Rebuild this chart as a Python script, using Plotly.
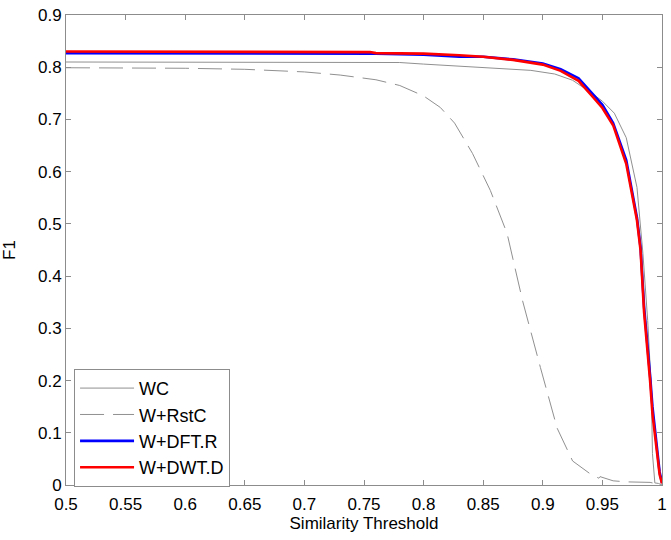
import plotly.graph_objects as go

# ---- data ----
wc_x = [0.5, 0.6, 0.7, 0.75, 0.78, 0.8, 0.85, 0.89, 0.91, 0.925, 0.94, 0.95, 0.96,
        0.97, 0.979, 0.984, 0.988, 0.991, 0.992, 0.994, 0.997, 1.0]
wc_y = [0.810, 0.810, 0.810, 0.810, 0.809, 0.806, 0.800, 0.794, 0.787, 0.775, 0.752,
        0.735, 0.712, 0.665, 0.570, 0.443, 0.315, 0.186, 0.060, 0.004, 0.003, 0.0]

rstc_x = [0.5, 0.6, 0.65, 0.7, 0.73, 0.76, 0.78, 0.8, 0.814, 0.826, 0.841, 0.856,
          0.870, 0.883, 0.898, 0.912, 0.925, 0.940, 0.947, 0.948, 0.959, 0.97, 0.99, 0.995, 1.0]
rstc_y = [0.799, 0.798, 0.796, 0.791, 0.785, 0.776, 0.765, 0.745, 0.723, 0.693, 0.635,
          0.564, 0.482, 0.353, 0.225, 0.109, 0.046, 0.021, 0.013, 0.016, 0.008, 0.006,
          0.005, 0.003, 0.0]

dft_x = [0.5, 0.6, 0.7, 0.75, 0.76, 0.8, 0.83, 0.85, 0.875, 0.9, 0.915, 0.93, 0.942,
         0.95, 0.959, 0.97, 0.979, 0.982, 0.985, 0.988, 0.99, 0.992, 0.994, 0.996, 0.998, 1.0]
dft_y = [0.827, 0.827, 0.827, 0.827, 0.826, 0.824, 0.820, 0.820, 0.815, 0.807, 0.796,
         0.779, 0.748, 0.728, 0.693, 0.622, 0.512, 0.455, 0.34, 0.27, 0.21, 0.15,
         0.105, 0.065, 0.025, 0.004]

dwt_x = [0.5, 0.6, 0.7, 0.75, 0.755, 0.76, 0.8, 0.83, 0.85, 0.875, 0.9, 0.915, 0.93,
         0.942, 0.95, 0.959, 0.97, 0.979, 0.982, 0.985, 0.988, 0.99, 0.992, 0.994,
         0.996, 0.998, 1.0]
dwt_y = [0.830, 0.830, 0.830, 0.830, 0.829, 0.827, 0.826, 0.823, 0.820, 0.814, 0.805,
         0.793, 0.774, 0.743, 0.722, 0.689, 0.615, 0.507, 0.45, 0.33, 0.257, 0.20,
         0.136, 0.10, 0.06, 0.02, 0.003]

x_ticks = [0.5, 0.55, 0.6, 0.65, 0.7, 0.75, 0.8, 0.85, 0.9, 0.95, 1.0]
x_tick_text = ["0.5", "0.55", "0.6", "0.65", "0.7", "0.75", "0.8", "0.85", "0.9", "0.95", "1"]
y_ticks = [0, 0.1, 0.2, 0.3, 0.4, 0.5, 0.6, 0.7, 0.8, 0.9]
y_tick_text = ["0", "0.1", "0.2", "0.3", "0.4", "0.5", "0.6", "0.7", "0.8", "0.9"]

FONT = "Liberation Sans, Arial, sans-serif"
AXIS_GRAY = "#8c8c8c"

fig = go.Figure()
fig.add_trace(go.Scatter(x=wc_x, y=wc_y, mode="lines", name="WC",
                         line=dict(color="#909090", width=1)))
fig.add_trace(go.Scatter(x=rstc_x, y=rstc_y, mode="lines", name="W+RstC",
                         line=dict(color="#909090", width=1, dash="24px,9px")))
fig.add_trace(go.Scatter(x=dft_x, y=dft_y, mode="lines", name="W+DFT.R",
                         line=dict(color="#0000ff", width=2.6)))
fig.add_trace(go.Scatter(x=dwt_x, y=dwt_y, mode="lines", name="W+DWT.D",
                         line=dict(color="#ff0000", width=2.6)))

axis_common = dict(
    showline=True, linecolor=AXIS_GRAY, linewidth=1, mirror="ticks",
    ticks="inside", ticklen=5, tickcolor=AXIS_GRAY, showgrid=False, zeroline=False,
    tickfont=dict(family=FONT, size=17, color="black"), automargin=False,
)

fig.update_layout(
    width=671, height=540,
    margin=dict(l=66, r=9, t=15, b=55, autoexpand=False),
    paper_bgcolor="white", plot_bgcolor="white",
    font=dict(family=FONT, size=17, color="black"),
    showlegend=True,
    legend=dict(
        x=0.0135, y=-0.004, xanchor="left", yanchor="bottom",
        bordercolor=AXIS_GRAY, borderwidth=1, bgcolor="white",
        font=dict(family=FONT, size=18, color="black"),
        tracegroupgap=0, itemwidth=54,
    ),
)
fig.update_xaxes(range=[0.5, 1.0], tickvals=x_ticks, ticktext=x_tick_text,
                 ticklabelstandoff=4,
                 title=dict(text="Similarity Threshold", standoff=3,
                            font=dict(family=FONT, size=17)),
                 **axis_common)
fig.update_yaxes(range=[0, 0.9], tickvals=y_ticks, ticktext=y_tick_text,
                 title=dict(text="F1", standoff=18, font=dict(family=FONT, size=17)),
                 **axis_common)

fig.write_html("out.html", config={"displayModeBar": False},
               post_script="document.body.style.margin='0';")
